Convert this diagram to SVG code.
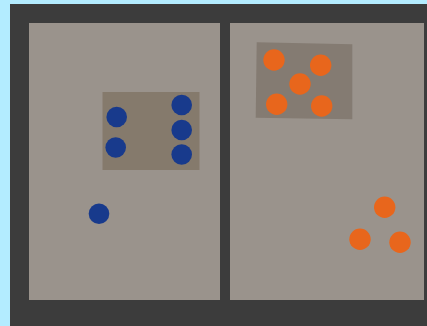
<svg xmlns="http://www.w3.org/2000/svg" width="427" height="326" viewBox="0 0 427 326">
<style>
.panel{fill:#9a938c}
.card{fill:#857a6c}
.blue{fill:#183a8c}
.orange{fill:#e8661c}
</style>
<rect x="0" y="0" width="427" height="326" fill="#b3ecff"/>
<rect x="10" y="4" width="417" height="322" fill="#3c3c3c"/>
<g id="left-panel">
<rect class="panel" x="29" y="23" width="191" height="277"/>
<rect class="card" x="102.5" y="92" width="97" height="78"/>
<circle class="blue" cx="116.7" cy="117" r="10.3"/>
<circle class="blue" cx="115.7" cy="147.5" r="10.3"/>
<circle class="blue" cx="181.7" cy="105" r="10.3"/>
<circle class="blue" cx="181.7" cy="130" r="10.3"/>
<circle class="blue" cx="181.7" cy="154.5" r="10.3"/>
<circle class="blue" cx="99" cy="213.7" r="10.3"/>
</g>
<g id="right-panel">
<rect class="panel" x="230" y="23" width="194" height="277"/>
<polygon fill="#847b72" points="256.7,42.3 352.3,44.3 352.3,119.3 255.7,117.7"/>
<circle class="orange" cx="274" cy="60" r="10.7"/>
<circle class="orange" cx="320.7" cy="65.3" r="10.7"/>
<circle class="orange" cx="300" cy="84" r="10.7"/>
<circle class="orange" cx="276.7" cy="104.3" r="10.7"/>
<circle class="orange" cx="321.7" cy="106" r="10.7"/>
<circle class="orange" cx="384.7" cy="207.3" r="10.7"/>
<circle class="orange" cx="360" cy="239.3" r="10.7"/>
<circle class="orange" cx="400" cy="242.3" r="10.7"/>
</g>
</svg>
